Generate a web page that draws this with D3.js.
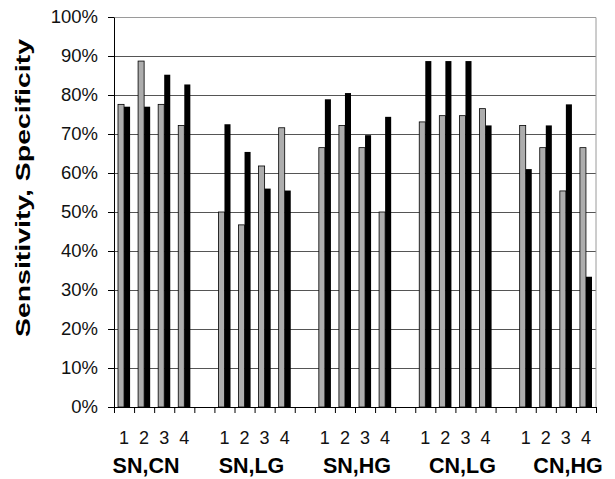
<!DOCTYPE html>
<html>
<head>
<meta charset="utf-8">
<script src="https://cdn.jsdelivr.net/npm/d3@7"></script>
<style>
  body { margin: 0; background: #fff; }
  svg { font-family: "Liberation Sans", Arial, sans-serif; }
</style>
</head>
<body>
<svg id="chart" width="615" height="479"></svg>
<script>
// groups and the four runs inside each
let groups = ["SN,CN", "SN,LG", "SN,HG", "CN,LG", "CN,HG"];
let runs = ["1", "2", "3", "4"];

// gray bars, black bars (percent), one value per group x run
let sensitivity = [77.6, 88.7, 77.6, 72.2,  50.0, 46.7, 61.8, 71.6,  66.5, 72.2, 66.5, 50.0,  73.1, 74.7, 74.7, 76.5,  72.2, 66.5, 55.4, 66.5];
let specificity = [77.0, 77.0, 85.2, 82.7,  72.5, 65.4, 56.0, 55.5,  78.9, 80.5, 69.7, 74.4,  88.7, 88.7, 88.7, 72.2,  61.0, 72.2, 77.6, 33.4];

let yTicks = [0, 10, 20, 30, 40, 50, 60, 70, 80, 90, 100];

let margin = {top: 17, right: 19, bottom: 72, left: 114};
let svg = d3.select("#chart");
let W = +svg.attr("width") - margin.left - margin.right;
let H = +svg.attr("height") - margin.top - margin.bottom;
let g = svg.append("g").attr("transform", `translate(${margin.left},${margin.top})`);

// slots: 4 runs per group with an empty slot between groups
let slots = [];
groups.forEach(function(grp, gi) {
    runs.forEach(function(r, ri) {
        slots.push({key: gi + "-" + ri, group: grp, run: r, idx: gi * 4 + ri});
    });
    if (gi < groups.length - 1) slots.push({key: "gap" + gi, blank: true});
});

let x = d3.scaleBand().domain(slots.map(d => d.key)).range([0, W]).paddingInner(0).paddingOuter(0);
let xs = d3.scaleBand().domain(["sens", "spec"]).range([4, x.bandwidth() - 4]);
let y = d3.scaleLinear().domain([0, 100]).range([H, 0]);

// grid
g.append("g")
    .call(d3.axisLeft(y).tickValues(yTicks.slice(1, -1)).tickSize(-W).tickFormat(""))
    .call(s => s.select(".domain").remove())
    .selectAll("line").attr("stroke", "#555").attr("stroke-width", 1);

// top and right border
g.append("path")
    .attr("d", `M0,0.5H${W}V${H}`)
    .attr("fill", "none")
    .attr("stroke", "#9a9a9a");

// bars
let barData = slots.filter(d => !d.blank);
let cell = g.append("g").selectAll("g")
    .data(barData).enter().append("g")
    .attr("transform", d => `translate(${x(d.key)},0)`);

cell.append("rect")
    .attr("x", xs("sens"))
    .attr("width", xs.bandwidth())
    .attr("y", d => y(sensitivity[d.idx]))
    .attr("height", d => H - y(sensitivity[d.idx]))
    .attr("fill", "#adadad")
    .attr("stroke", "#000")
    .attr("stroke-width", 0.8);

cell.append("rect")
    .attr("x", xs("spec"))
    .attr("width", xs.bandwidth())
    .attr("y", d => y(specificity[d.idx]))
    .attr("height", d => H - y(specificity[d.idx]))
    .attr("fill", "#000");

// y axis
let yAxis = g.append("g")
    .call(d3.axisLeft(y).tickValues(yTicks).tickSize(6).tickSizeOuter(0).tickPadding(10).tickFormat(d => d + "%"));
yAxis.select(".domain").attr("stroke", "#000");
yAxis.selectAll("text").attr("font-size", 18.5).attr("fill", "#111");

// x axis with a tick at every slot boundary
let xb = d3.scaleLinear().domain([0, slots.length]).range([0, W]);
let xAxis = g.append("g")
    .attr("transform", `translate(0,${H})`)
    .call(d3.axisBottom(xb).tickValues(d3.range(slots.length + 1)).tickSize(6).tickSizeOuter(0).tickFormat(""));
xAxis.select(".domain").attr("stroke", "#000");

// run numbers
g.append("g").selectAll("text")
    .data(barData).enter().append("text")
    .attr("x", d => x(d.key) + x.bandwidth() / 2)
    .attr("y", H + 37)
    .attr("text-anchor", "middle")
    .attr("font-size", 18)
    .attr("fill", "#111")
    .text(d => d.run);

// group names
let gx = d3.scalePoint().domain(groups).range([32, W - 28]);
g.append("g").selectAll("text")
    .data(groups).enter().append("text")
    .attr("x", d => gx(d))
    .attr("y", H + 66)
    .attr("text-anchor", "middle")
    .attr("font-size", 21.5)
    .attr("font-weight", "bold")
    .attr("fill", "#000")
    .text(d => d);

// y title (stretched along its length like the scanned original)
svg.append("text")
    .attr("transform", "translate(30,188) rotate(-90)")
    .attr("text-anchor", "middle")
    .attr("font-size", 21)
    .attr("font-weight", "bold")
    .attr("fill", "#000")
    .attr("textLength", 298)
    .attr("lengthAdjust", "spacingAndGlyphs")
    .text("Sensitivity, Specificity");
</script>
</body>
</html>
